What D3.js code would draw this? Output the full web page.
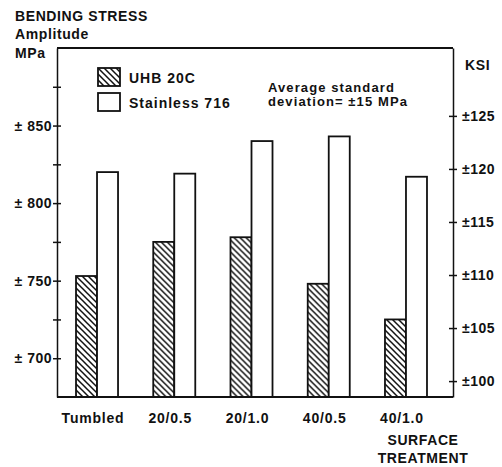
<!DOCTYPE html>
<html>
<head>
<meta charset="utf-8">
<script src="https://cdn.jsdelivr.net/npm/d3@7"></script>
<style>
  body { margin: 0; background: #fff; }
  text { font-family: "Liberation Sans", Arial, sans-serif; font-weight: bold; fill: #111; }
</style>
</head>
<body>
<svg id="chart" width="502" height="467"></svg>
<script>
// data
const treatments = ["Tumbled", "20/0.5", "20/1.0", "40/0.5", "40/1.0"];
const series = ["UHB 20C", "Stainless 716"];
const uhb20c = [753, 775, 778, 748, 725];
const stainless716 = [820, 819, 840, 843, 817];
const mpaTicks = [700, 725, 750, 775, 800, 825, 850, 875];
const ksiTicks = [100, 105, 110, 115, 120, 125];

let rows = treatments.map((t, i) => ({
  name: t,
  values: [
    { key: series[0], value: uhb20c[i] },
    { key: series[1], value: stainless716[i] }
  ]
}));

let svg = d3.select("#chart");
svg.append("rect").attr("width", 502).attr("height", 467).attr("fill", "#fff");

let defs = svg.append("defs");
let pat = defs.append("pattern")
  .attr("id", "hatch")
  .attr("patternUnits", "userSpaceOnUse")
  .attr("width", 6)
  .attr("height", 6);
pat.append("rect").attr("width", 6).attr("height", 6).attr("fill", "#fff");
pat.append("path")
  .attr("d", "M0,0 L6,6 M-1,5 L1,7 M5,-1 L7,1")
  .attr("stroke", "#111")
  .attr("stroke-width", 1.5);

let plotLeft = 57, plotRight = 453, plotTop = 48, plotBottom = 397;

let y = d3.scaleLinear().domain([675, 900]).range([plotBottom, plotTop]);
// KSI axis as printed (sits a few px off the exact conversion)
let yKsi = d3.scaleLinear().domain([98.5, 131.4]).range([plotBottom, plotTop]);

let x0 = d3.scaleBand()
  .domain(treatments)
  .range([58.4, 444.6])
  .paddingInner(0.456)
  .paddingOuter(0.228);

let x1 = d3.scaleBand()
  .domain(series)
  .range([0, x0.bandwidth()]);

let fill = d3.scaleOrdinal().domain(series).range(["url(#hatch)", "#fff"]);

// bars
let groups = svg.selectAll("g.group")
  .data(rows)
  .enter()
  .append("g")
  .attr("class", "group")
  .attr("transform", d => "translate(" + x0(d.name) + ",0)");

groups.selectAll("rect")
  .data(d => d.values)
  .enter()
  .append("rect")
  .attr("x", d => x1(d.key))
  .attr("width", x1.bandwidth())
  .attr("y", d => y(d.value))
  .attr("height", d => y(675) - y(d.value))
  .attr("fill", d => fill(d.key))
  .attr("stroke", "#111")
  .attr("stroke-width", 1.8);

// frame
svg.append("line")
  .attr("x1", plotLeft).attr("x2", plotRight)
  .attr("y1", plotTop).attr("y2", plotTop)
  .attr("stroke", "#111").attr("stroke-width", 1.8);
svg.append("line")
  .attr("x1", plotLeft).attr("x2", plotRight)
  .attr("y1", plotBottom).attr("y2", plotBottom)
  .attr("stroke", "#111").attr("stroke-width", 1.8);

// left axis (MPa)
let axL = svg.append("g")
  .attr("transform", "translate(" + plotLeft + ",0)")
  .call(d3.axisLeft(y)
    .tickValues(mpaTicks)
    .tickFormat(d => d % 50 === 0 ? "\u00b1 " + d : "")
    .tickSize(4)
    .tickSizeOuter(0)
    .tickPadding(1));
axL.selectAll("line").attr("x1", 4);
axL.selectAll("path, line").attr("stroke", "#111").attr("stroke-width", 1.5);
axL.selectAll("text")
  .attr("font-size", 14)
  .attr("letter-spacing", 0.5)
  .attr("font-family", null)
  .attr("fill", "#111");

// right axis (KSI)
let axR = svg.append("g")
  .attr("transform", "translate(" + plotRight + ",0)")
  .call(d3.axisRight(yKsi)
    .tickValues(ksiTicks)
    .tickFormat(d => "\u00b1" + d)
    .tickSize(4)
    .tickSizeOuter(0)
    .tickPadding(5));
axR.selectAll("line").attr("x1", -4);
axR.selectAll("path, line").attr("stroke", "#111").attr("stroke-width", 1.5);
axR.selectAll("text")
  .attr("font-size", 14)
  .attr("letter-spacing", 0.5)
  .attr("font-family", null)
  .attr("fill", "#111");

// category labels
svg.selectAll("text.cat")
  .data(treatments)
  .enter()
  .append("text")
  .attr("class", "cat")
  .attr("x", d => x0(d) + x0.bandwidth() / 2 - 4)
  .attr("y", 423)
  .attr("text-anchor", "middle")
  .attr("font-size", 14)
  .attr("letter-spacing", 0.8)
  .text(d => d);

function label(x, yy, str, anchor, size, spacing) {
  svg.append("text")
    .attr("x", x)
    .attr("y", yy)
    .attr("text-anchor", anchor || "start")
    .attr("font-size", size || 14)
    .attr("letter-spacing", spacing || 0.6)
    .text(str);
}

label(15, 21, "BENDING STRESS");
label(15, 39, "Amplitude");
label(15, 58, "MPa");
label(465, 70, "KSI");
label(268, 92, "Average standard", "start", 13, 1.1);
label(268, 106, "deviation= \u00b115 MPa", "start", 13, 1.1);
label(423, 445, "SURFACE", "middle");
label(423, 463, "TREATMENT", "middle");

// legend
let legend = svg.selectAll("g.legend")
  .data(series)
  .enter()
  .append("g")
  .attr("class", "legend")
  .attr("transform", (d, i) => "translate(98," + (68 + i * 25) + ")");
legend.append("rect")
  .attr("width", 22)
  .attr("height", 18)
  .attr("fill", d => fill(d))
  .attr("stroke", "#111")
  .attr("stroke-width", 1.8);
legend.append("text")
  .attr("x", 31)
  .attr("y", 15)
  .attr("font-size", 14)
  .attr("letter-spacing", 1)
  .text(d => d);
</script>
</body>
</html>
